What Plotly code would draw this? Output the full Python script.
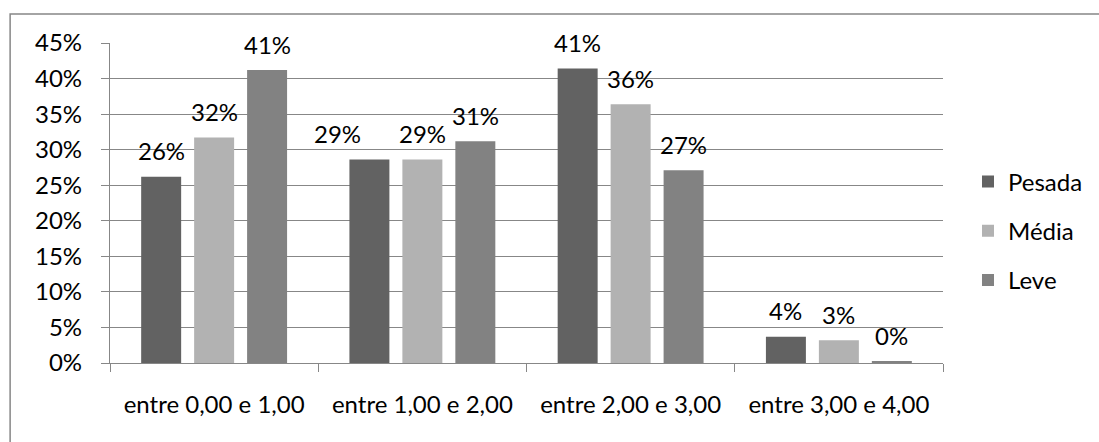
import plotly.graph_objects as go

# Distribution by class (share of each category)
categories = ["entre 0,00 e 1,00", "entre 1,00 e 2,00", "entre 2,00 e 3,00", "entre 3,00 e 4,00"]
pesada = [0.262, 0.286, 0.414, 0.037]
media = [0.317, 0.286, 0.364, 0.032]
leve = [0.412, 0.312, 0.271, 0.0025]

series = [
    ("Pesada", pesada, "#626262"),
    ("Média", media, "#b2b2b2"),
    ("Leve", leve, "#828282"),
]

FONT = "Lato"
TEXT_SIZE = 24
GRID = "#878787"

W, H = 1099, 442
ML, MR, MT, MB = 110, 155, 43, 79
BARGAP, BARGROUPGAP = 0.237, 0.245

fig = go.Figure()
for i, (name, vals, col) in enumerate(series):
    fig.add_trace(go.Bar(
        x=categories, y=vals, name=name, marker_color=col,
        marker_line_width=0, legendgroup=name, hoverinfo="skip",
    ))

# Data labels above each bar, spaced like the bar slots of the grouped layout
plot_w = W - ML - MR
cat_w = plot_w / len(categories)
slot = cat_w * (1 - BARGAP) / len(series)
label_dx = {(0, 1): -32}  # label nudged left for one bar
annotations = []
for i, (name, vals, col) in enumerate(series):
    for j, v in enumerate(vals):
        annotations.append(dict(
            x=categories[j], y=v, xref="x", yref="y",
            text=f"{round(v * 100):.0f}%", showarrow=False,
            xshift=(i - 1) * slot + label_dx.get((i, j), 0), yshift=26,
            font=dict(family=FONT, size=TEXT_SIZE, color="#000000"),
        ))

plot_h = H - MT - MB
# Outer chart frame
frame = dict(
    type="rect", xref="paper", yref="paper",
    x0=(10 - ML) / plot_w, x1=1.3,
    y0=-0.5, y1=1 + (MT - 14) / plot_h,
    line=dict(color=GRID, width=1.5), fillcolor="rgba(0,0,0,0)", layer="below",
)

fig.update_layout(
    width=W, height=H,
    margin=dict(l=ML, r=MR, t=MT, b=MB),
    paper_bgcolor="white", plot_bgcolor="white",
    barmode="group", bargap=BARGAP, bargroupgap=BARGROUPGAP,
    font=dict(family=FONT, size=TEXT_SIZE, color="#000000"),
    annotations=annotations,
    shapes=[frame],
    showlegend=True,
    legend=dict(
        x=(968 - ML) / plot_w, xanchor="left",
        y=(363 - 231) / plot_h, yanchor="middle",
        tracegroupgap=15, font=dict(family=FONT, size=TEXT_SIZE),
        bgcolor="rgba(0,0,0,0)",
    ),
    hovermode=False,
)

fig.update_yaxes(
    range=[0, 0.45], dtick=0.05, tickformat=".0%",
    showgrid=True, gridcolor=GRID, gridwidth=1.3,
    showline=True, linecolor=GRID, linewidth=1.3,
    ticks="outside", ticklen=8, tickcolor=GRID, tickwidth=1.3,
    ticklabelstandoff=14, zeroline=False,
    tickfont=dict(family=FONT, size=TEXT_SIZE),
)
fig.update_xaxes(
    showline=True, linecolor=GRID, linewidth=1.3,
    ticks="outside", tickson="boundaries", ticklen=8, tickcolor=GRID, tickwidth=1.3,
    ticklabelstandoff=20, showgrid=False,
    tickfont=dict(family=FONT, size=TEXT_SIZE),
)

fig.write_html("out.html")
